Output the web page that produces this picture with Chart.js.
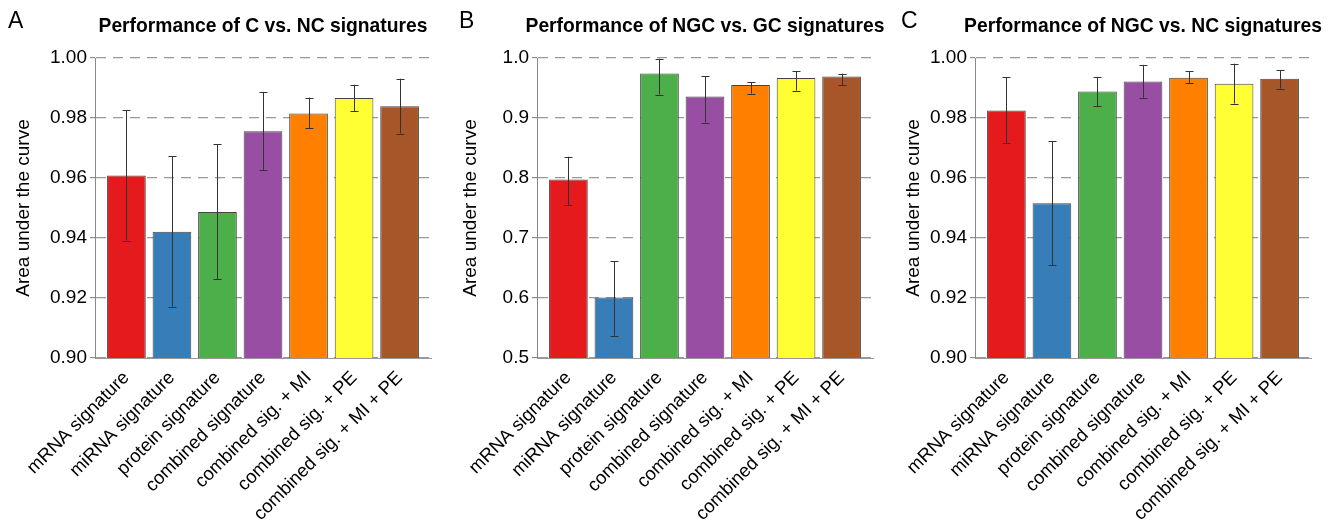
<!DOCTYPE html>
<html>
<head>
<meta charset="utf-8">
<script src="https://cdn.jsdelivr.net/npm/chart.js@4.4.1/dist/chart.umd.min.js"></script>
<style>
    body { margin: 0; background: #fff; }
    #wrap { position: relative; width: 1334px; height: 520px; overflow: hidden; font-family: "Liberation Sans", Arial, sans-serif; }
    .panel { position: absolute; top: 0; height: 520px; }
    .letter { position: absolute; top: 9px; font-size: 23px; line-height: 23px; color: #000; }
    .title { position: absolute; top: 16px; width: 440px; text-align: center; font-size: 19.3px; line-height: 19px; font-weight: bold; color: #000; }
</style>
</head>
<body>
<div id="wrap">
    <div class="panel" style="left:0;width:445px"><canvas id="chartA" width="445" height="520"></canvas></div>
    <div class="panel" style="left:445px;width:445px"><canvas id="chartB" width="445" height="520"></canvas></div>
    <div class="panel" style="left:890px;width:444px"><canvas id="chartC" width="444" height="520"></canvas></div>
    <div class="letter" style="left:8px">A</div>
    <div class="letter" style="left:459px">B</div>
    <div class="letter" style="left:901px">C</div>
    <div class="title" style="left:43px">Performance of C vs. NC signatures</div>
    <div class="title" style="left:485px">Performance of NGC vs. GC signatures</div>
    <div class="title" style="left:923px">Performance of NGC vs. NC signatures</div>
</div>
<script>
// 分类标签
const categories = ['mRNA signature', 'miRNA signature', 'protein signature', 'combined signature',
    'combined sig. + MI', 'combined sig. + PE', 'combined sig. + MI + PE'];
const barColors = ['#e41a1c', '#377eb8', '#4daf4a', '#984ea3', '#ff7f00', '#ffff33', '#a65628'];

// A: C vs. NC
const aucA = [0.9608, 0.9421, 0.9487, 0.9756, 0.9815, 0.9867, 0.9839];
const lowA = [0.9391, 0.9171, 0.9263, 0.9626, 0.9765, 0.9823, 0.9748];
const highA = [0.9825, 0.9673, 0.9712, 0.9887, 0.9868, 0.9911, 0.9931];

// B: NGC vs. GC
const aucB = [0.7977, 0.6009, 0.9740, 0.9357, 0.9551, 0.9667, 0.9690];
const lowB = [0.7550, 0.5371, 0.9390, 0.8925, 0.9407, 0.9457, 0.9545];
const highB = [0.8354, 0.6613, 0.9989, 0.9700, 0.9600, 0.9780, 0.9740];

// C: NGC vs. NC
const aucC = [0.9825, 0.9516, 0.9888, 0.9922, 0.9934, 0.9914, 0.9931];
const lowC = [0.9715, 0.9309, 0.9839, 0.9868, 0.9915, 0.9848, 0.9898];
const highC = [0.9936, 0.9722, 0.9937, 0.9977, 0.9955, 0.9981, 0.9959];

// 误差线插件
const errorBarPlugin = {
    id: 'errorBars',
    afterDatasetsDraw(chart, args, opts) {
        const ctx = chart.ctx;
        const yScale = chart.scales.y;
        const meta = chart.getDatasetMeta(0);
        ctx.save();
        ctx.strokeStyle = '#333';
        ctx.lineWidth = 1;
        meta.data.forEach((bar, i) => {
            const x = Math.round(bar.x) + 0.5;
            const yTop = yScale.getPixelForValue(opts.high[i]);
            const yBot = yScale.getPixelForValue(opts.low[i]);
            ctx.beginPath();
            ctx.moveTo(x, yTop);
            ctx.lineTo(x, yBot);
            ctx.moveTo(x - 4, Math.round(yTop) + 0.5);
            ctx.lineTo(x + 4, Math.round(yTop) + 0.5);
            ctx.moveTo(x - 4, Math.round(yBot) + 0.5);
            ctx.lineTo(x + 4, Math.round(yBot) + 0.5);
            ctx.stroke();
        });
        ctx.restore();
    }
};

function makeChart(id, values, low, high, yMin, yMax, step, digits, axisWidth, padRight, titlePad) {
    const ctx = document.getElementById(id);
    return new Chart(ctx, {
        type: 'bar',
        data: {
            datasets: [{
                data: values.map((v, i) => ({ x: i, y: v })),
                backgroundColor: barColors,
                borderColor: '#444',
                borderWidth: 1,
                categoryPercentage: 1,
                barPercentage: 0.85
            }]
        },
        options: {
            responsive: false,
            animation: false,
            events: [],
            layout: { padding: { top: 58, right: padRight, left: 0, bottom: 0 } },
            plugins: {
                legend: { display: false },
                tooltip: { enabled: false },
                errorBars: { low: low, high: high }
            },
            scales: {
                x: {
                    type: 'linear',
                    min: -0.69,
                    max: 6.69,
                    offset: false,
                    grid: { display: false, offset: false },
                    border: { display: true, color: '#999', width: 1 },
                    ticks: {
                        stepSize: 1,
                        includeBounds: false,
                        autoSkip: false,
                        minRotation: 45,
                        maxRotation: 45,
                        padding: 1,
                        color: '#000',
                        font: { family: 'Liberation Sans', size: 18.5 },
                        callback: v => Number.isInteger(v) ? categories[v] : ''
                    },
                    afterFit: s => { s.height = 162; }
                },
                y: {
                    min: yMin,
                    max: yMax,
                    grid: {
                        color: '#999',
                        lineWidth: 1.3,
                        drawTicks: true,
                        tickLength: 5,
                        tickColor: '#777',
                        tickWidth: 1
                    },
                    border: { display: true, color: '#888', width: 1, dash: [10, 7] },
                    ticks: {
                        stepSize: step,
                        padding: 3,
                        color: '#000',
                        font: { family: 'Liberation Sans', size: 19 },
                        callback: v => v.toFixed(digits)
                    },
                    title: {
                        display: true,
                        text: 'Area under the curve',
                        color: '#000',
                        padding: { top: titlePad, bottom: 2 },
                        font: { family: 'Liberation Sans', size: 19 }
                    },
                    afterFit: s => { s.width = axisWidth; }
                }
            }
        },
        plugins: [errorBarPlugin]
    });
}

document.addEventListener('DOMContentLoaded', function() {
    makeChart('chartA', aucA, lowA, highA, 0.9, 1.0, 0.02, 2, 95, 14, 12);
    makeChart('chartB', aucB, lowB, highB, 0.5, 1.0, 0.1, 1, 92, 17, 14);
    makeChart('chartC', aucC, lowC, highC, 0.9, 1.0, 0.02, 2, 85, 23, 12);
});
</script>
</body>
</html>
